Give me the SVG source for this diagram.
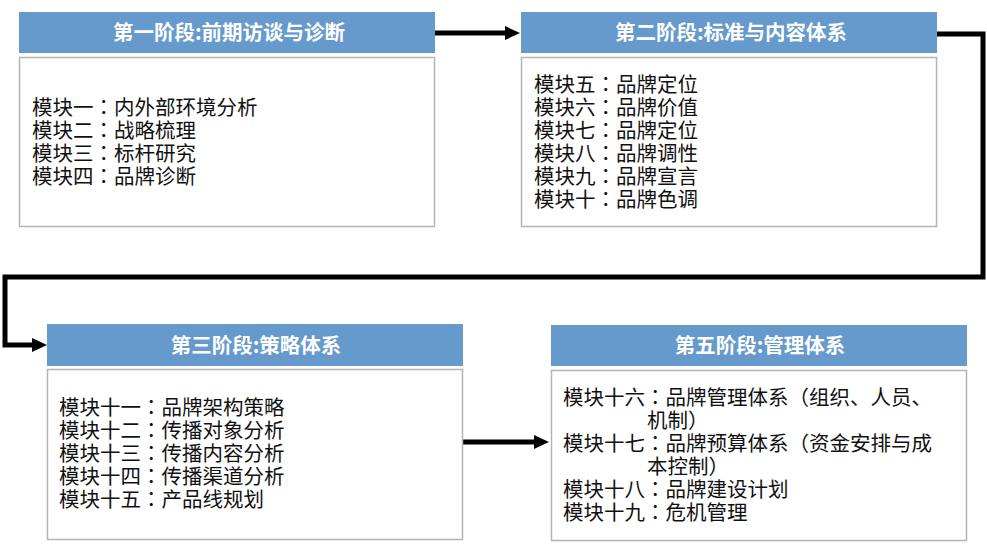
<svg xmlns="http://www.w3.org/2000/svg" width="987" height="546" viewBox="0 0 987 546">
<style>
.hd{fill:#6699CC}
.bd{fill:#fff;stroke:#B4B4B4;stroke-width:1.5}
.ht{font-family:"Noto Sans CJK SC","Noto Sans",sans-serif;font-size:20.5px;font-weight:bold;fill:#fff;text-anchor:middle}
.bt{font-family:"Noto Sans CJK SC","Noto Sans",sans-serif;font-size:20.5px;fill:#111}
.p{font-family:"Noto Sans CJK TC","Noto Sans CJK SC",sans-serif}
.cn{fill:none;stroke:#000;stroke-width:5;stroke-linejoin:miter}
</style>
<defs>
<marker id="ah" markerUnits="userSpaceOnUse" viewBox="0 0 15 14" markerWidth="15" markerHeight="14" refX="5" refY="7" orient="auto">
<path d="M0,0 L15,7 L0,14 z" fill="#000"/>
</marker>
</defs>
<rect width="987" height="546" fill="#fff"/>
<g id="connectors">
<path class="cn" d="M435,33 H510" marker-end="url(#ah)"/>
<path class="cn" d="M937,34 H983 V277 H5 V345 H37" marker-end="url(#ah)"/>
<path class="cn" d="M462,442 H539" marker-end="url(#ah)"/>
</g>
<g id="stage1">
<rect class="hd" x="19" y="12" width="416" height="41"/>
<text class="ht" x="229" y="40">第一阶段:前期访谈与诊断</text>
<rect class="bd" x="19.5" y="57.5" width="415" height="169"/>
<text class="bt" x="32" y="115">模块一<tspan class="p">：</tspan>内外部环境分析</text>
<text class="bt" x="32" y="138">模块二<tspan class="p">：</tspan>战略梳理</text>
<text class="bt" x="32" y="161">模块三<tspan class="p">：</tspan>标杆研究</text>
<text class="bt" x="32" y="184">模块四<tspan class="p">：</tspan>品牌诊断</text>
</g>
<g id="stage2">
<rect class="hd" x="521" y="12" width="416" height="41"/>
<text class="ht" x="731" y="40">第二阶段:标准与内容体系</text>
<rect class="bd" x="521.5" y="57.5" width="415" height="169"/>
<text class="bt" x="534" y="92">模块五<tspan class="p">：</tspan>品牌定位</text>
<text class="bt" x="534" y="115">模块六<tspan class="p">：</tspan>品牌价值</text>
<text class="bt" x="534" y="138">模块七<tspan class="p">：</tspan>品牌定位</text>
<text class="bt" x="534" y="161">模块八<tspan class="p">：</tspan>品牌调性</text>
<text class="bt" x="534" y="184">模块九<tspan class="p">：</tspan>品牌宣言</text>
<text class="bt" x="534" y="207">模块十<tspan class="p">：</tspan>品牌色调</text>
</g>
<g id="stage3">
<rect class="hd" x="47" y="324" width="416" height="42"/>
<text class="ht" x="256" y="353">第三阶段:策略体系</text>
<rect class="bd" x="47.5" y="369.5" width="415" height="170"/>
<text class="bt" x="59" y="415">模块十一<tspan class="p">：</tspan>品牌架构策略</text>
<text class="bt" x="59" y="438">模块十二<tspan class="p">：</tspan>传播对象分析</text>
<text class="bt" x="59" y="461">模块十三<tspan class="p">：</tspan>传播内容分析</text>
<text class="bt" x="59" y="484">模块十四<tspan class="p">：</tspan>传播渠道分析</text>
<text class="bt" x="59" y="507">模块十五<tspan class="p">：</tspan>产品线规划</text>
</g>
<g id="stage5">
<rect class="hd" x="551" y="325" width="416" height="41"/>
<text class="ht" x="760" y="353">第五阶段:管理体系</text>
<rect class="bd" x="551.5" y="370.5" width="415" height="170"/>
<text class="bt" x="563" y="405">模块十六<tspan class="p">：</tspan>品牌管理体系<tspan class="p">（</tspan>组织、人员、</text>
<text class="bt" x="647" y="428">机制<tspan class="p">）</tspan></text>
<text class="bt" x="563" y="451">模块十七<tspan class="p">：</tspan>品牌预算体系<tspan class="p">（</tspan>资金安排与成</text>
<text class="bt" x="647" y="474">本控制<tspan class="p">）</tspan></text>
<text class="bt" x="563" y="497">模块十八<tspan class="p">：</tspan>品牌建设计划</text>
<text class="bt" x="563" y="520">模块十九<tspan class="p">：</tspan>危机管理</text>
</g>
</svg>
